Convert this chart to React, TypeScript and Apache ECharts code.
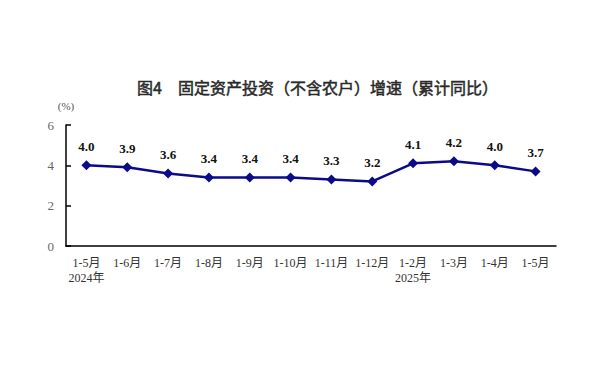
import React, { useEffect, useRef } from "react";
import * as echarts from "echarts";

const categories = ["1-5月", "1-6月", "1-7月", "1-8月", "1-9月", "1-10月", "1-11月", "1-12月", "1-2月", "1-3月", "1-4月", "1-5月"];
const yearLabels = ["2024年", "", "", "", "", "", "", "", "2025年", "", "", ""];
const growth = [4.0, 3.9, 3.6, 3.4, 3.4, 3.4, 3.3, 3.2, 4.1, 4.2, 4.0, 3.7];
const titleText = "图4　固定资产投资（不含农户）增速（累计同比）";

export default function App() {
  const ref = useRef<HTMLDivElement>(null);
  useEffect(() => {
    if (!ref.current) return;
    const chart = echarts.init(ref.current, null, { renderer: "svg" });
    const serif = "'Liberation Serif', 'DejaVu Serif', 'Noto Sans CJK SC', serif";
    chart.setOption({
      animation: false,
      backgroundColor: "#ffffff",
      title: {
        text: titleText,
        left: 132,
        top: 74,
        textStyle: {
          fontFamily: "'Noto Sans CJK SC', sans-serif",
          fontSize: 16,
          fontWeight: "normal",
          color: "#2a2a2a",
          textBorderColor: "#2a2a2a",
          textBorderWidth: 0.5,
        },
      },
      grid: { left: 66, right: 50, top: 125, bottom: 129 },
      xAxis: {
        type: "category",
        data: categories,
        boundaryGap: true,
        axisLine: { lineStyle: { color: "#000", width: 1.5 } },
        axisTick: { inside: true, length: 5, alignWithLabel: false, lineStyle: { color: "#000", width: 1.5 } },
        axisLabel: {
          interval: 0,
          margin: 9,
          fontFamily: serif,
          fontSize: 12,
          color: "#333",
          lineHeight: 15,
          align: "center",
          formatter: (v: string, i: number) => (yearLabels[i] ? v + "\n" + yearLabels[i] : v),
        },
      },
      yAxis: {
        type: "value",
        min: 0,
        max: 6,
        interval: 2,
        name: "(%)",
        nameLocation: "end",
        nameGap: 14,
        nameTextStyle: { fontFamily: serif, fontSize: 11, color: "#555", align: "center" },
        splitLine: { show: false },
        axisLine: { show: true, lineStyle: { color: "#000", width: 1.5 } },
        axisTick: { show: true, inside: true, length: 5, lineStyle: { color: "#000", width: 1.5 } },
        axisLabel: { fontFamily: serif, fontSize: 13, color: "#666", margin: 12 },
      },
      series: [
        {
          type: "line",
          data: growth,
          symbol: "diamond",
          symbolSize: 10,
          lineStyle: { color: "#0b0b8a", width: 2.5 },
          itemStyle: { color: "#0b0b8a" },
          label: {
            show: true,
            position: "top",
            distance: 7,
            formatter: (p: any) => p.value.toFixed(1),
            fontFamily: serif,
            fontWeight: "bold",
            fontSize: 13,
            color: "#111",
          },
        },
      ],
    });
    return () => chart.dispose();
  }, []);
  return <div ref={ref} style={{ position: "absolute", left: 0, top: 0, width: 606, height: 375 }} />;
}
